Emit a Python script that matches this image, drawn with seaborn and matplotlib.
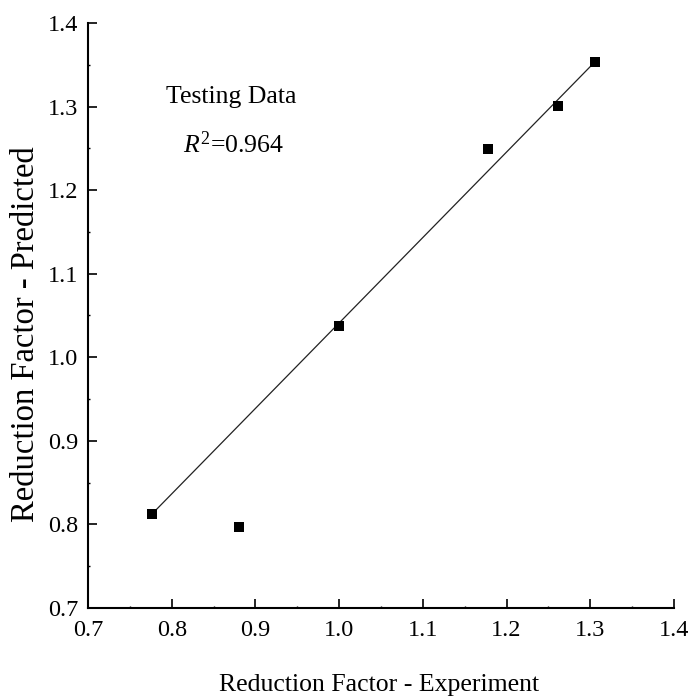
import numpy as np
import matplotlib
matplotlib.use("Agg")
import matplotlib.pyplot as plt
from matplotlib.ticker import MultipleLocator, FormatStrFormatter
import seaborn as sns
import pandas as pd

# Testing-set reduction factors: experiment vs. model prediction
experiment = [0.776, 0.880, 1.000, 1.178, 1.262, 1.306]
predicted = [0.812, 0.797, 1.037, 1.249, 1.301, 1.353]

# Fitted trend line through the testing data
trend_x = [0.776, 1.306]
trend_y = [0.812, 1.354]

r_squared = 0.964

x_ticks = [0.7, 0.8, 0.9, 1.0, 1.1, 1.2, 1.3, 1.4]
y_ticks = [0.7, 0.8, 0.9, 1.0, 1.1, 1.2, 1.3, 1.4]

sns.set_style("ticks")
plt.rcParams["font.family"] = ["Liberation Serif", "DejaVu Serif"]
plt.rcParams["mathtext.fontset"] = "custom"
plt.rcParams["mathtext.rm"] = "Liberation Serif"
plt.rcParams["mathtext.it"] = "Liberation Serif:italic"
plt.rcParams["text.color"] = "black"
plt.rcParams["axes.labelcolor"] = "black"

df = pd.DataFrame({"experiment": experiment, "predicted": predicted})
trend = pd.DataFrame({"x": trend_x, "y": trend_y})

fig = plt.figure(figsize=(6.91, 6.97), dpi=100)
ax = fig.add_axes([88 / 691, (697 - 608) / 697, 586 / 691, 585 / 697])

sns.lineplot(data=trend, x="x", y="y", color="#222222", linewidth=0.9,
             ax=ax, estimator=None, sort=False)
sns.scatterplot(data=df, x="experiment", y="predicted", marker="s", s=62,
                color="black", edgecolor="black", linewidth=0, ax=ax, zorder=3)

ax.set_xlim(x_ticks[0], x_ticks[-1])
ax.set_ylim(y_ticks[0], y_ticks[-1])
ax.set_xticks(x_ticks)
ax.set_yticks(y_ticks)
ax.xaxis.set_major_formatter(FormatStrFormatter("%.1f"))
ax.yaxis.set_major_formatter(FormatStrFormatter("%.1f"))
ax.xaxis.set_minor_locator(MultipleLocator(0.05))
ax.yaxis.set_minor_locator(MultipleLocator(0.05))

for side in ("top", "right"):
    ax.spines[side].set_visible(False)
for side in ("left", "bottom"):
    ax.spines[side].set_linewidth(1.5)
    ax.spines[side].set_color("black")

ax.tick_params(which="major", direction="in", length=6.5, width=1.2,
               labelsize=17.5, colors="black")
ax.tick_params(axis="x", which="major", pad=9)
ax.tick_params(axis="y", which="major", pad=7)
ax.tick_params(which="minor", direction="in", length=1.5, width=1.0,
               colors="black")

ax.set_xlabel("Reduction Factor - Experiment", fontsize=18.5)
ax.set_ylabel("Reduction Factor - Predicted", fontsize=23.5)
ax.xaxis.set_label_coords(0.497, -0.113)
ax.yaxis.set_label_coords(-0.08, 0.468)

ax.text(0.244, 0.863, "Testing Data", transform=ax.transAxes,
        ha="center", va="baseline", fontsize=18.5)
ax.text(0.248, 0.778, f"$R^2$={r_squared:.3f}", transform=ax.transAxes,
        ha="center", va="baseline", fontsize=18.5)

fig.savefig("out.png", dpi=100)
